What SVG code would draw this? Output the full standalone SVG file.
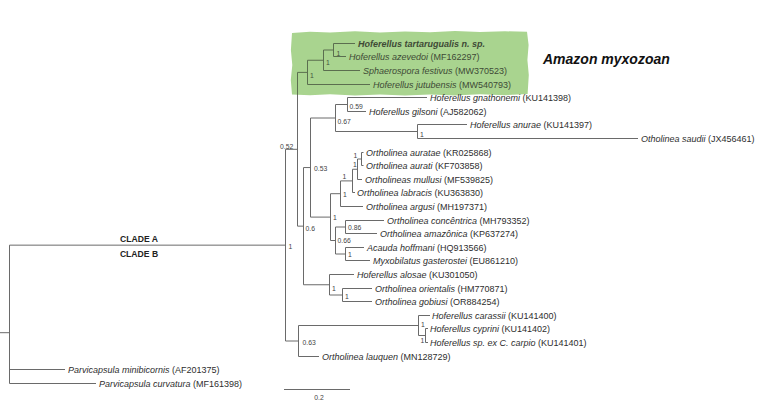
<svg xmlns="http://www.w3.org/2000/svg" width="784" height="403" viewBox="0 0 784 403">
<style>
  .br{fill:none;stroke:#6a6a6a;stroke-width:1}
  .brg{fill:none;stroke:#5b6e4f;stroke-width:1}
  .tx{font-family:"Liberation Sans",Arial,sans-serif;font-size:9px;fill:#2e2e2e}
  .txg{font-family:"Liberation Sans",Arial,sans-serif;font-size:9px;fill:#3e4a36}
  .it{font-style:italic}
  .sp{font-family:"Liberation Sans",Arial,sans-serif;font-size:6.8px;fill:#444}
  .spg{font-family:"Liberation Sans",Arial,sans-serif;font-size:6.8px;fill:#45553c}
  .cl{font-family:"Liberation Sans",Arial,sans-serif;font-size:8.6px;font-weight:bold;fill:#222;text-anchor:middle}
</style>
<rect width="784" height="403" fill="#fff"/>
<g id="highlight">
  <path d="M292,33 L310,31.8 L330,32.6 L355,31.2 L380,32.5 L405,31.4 L430,32.2 L455,31 L480,32 L505,31.3 L527,31.8 L528.6,45 L527.4,60 L528.8,75 L527.6,94 L505,95.2 L480,94.3 L455,95.6 L430,94.6 L405,95.4 L380,94.4 L355,95.6 L330,94.2 L310,95.3 L292,94.6 L290.8,80 L292.3,65 L290.9,50 Z" fill="#a9d48f"/>
</g>
<g id="connectors">
  <path class="brg" d="M333.5,43.5V56.5 M333.5,43.5H355 M333.5,56.5H346"/>
  <path class="brg" d="M323.5,50V70.5 M323.5,50H333.5 M323.5,70.5H360"/>
  <path class="brg" d="M307.5,60.25V84.5 M307.5,60.25H323.5 M307.5,84.5H370"/>
  <path class="brg" d="M297.5,72.4H307.5"/>
  <path class="br" d="M297.5,95V226.15"/>
  <path class="brg" d="M297.5,72.4V95"/>
  <path class="br" d="M347.5,97.5V111.5 M347.5,97.5H427 M347.5,111.5H366"/>
  <path class="br" d="M417.5,124.5V138.5 M417.5,124.5H467 M417.5,138.5H638"/>
  <path class="br" d="M335.5,104.5V131.5 M335.5,104.5H347.5 M335.5,131.5H417.5"/>
  <path class="br" d="M361.5,152.5V165.5 M361.5,152.5H363.5 M361.5,165.5H363.5"/>
  <path class="br" d="M357.5,159V179.5 M357.5,159H361.5 M357.5,179.5H362"/>
  <path class="br" d="M352.5,169.25V192.5 M352.5,169.25H357.5 M352.5,192.5H355"/>
  <path class="br" d="M340.5,180.9V206.5 M340.5,180.9H352.5 M340.5,206.5H363"/>
  <path class="br" d="M345.5,220.5V233.5 M345.5,220.5H384 M345.5,233.5H377"/>
  <path class="br" d="M345.5,247.5V260.5 M345.5,247.5H364 M345.5,260.5H370"/>
  <path class="br" d="M335.5,227V254 M335.5,227H345.5 M335.5,254H345.5"/>
  <path class="br" d="M330.5,193.7V240.5 M330.5,193.7H340.5 M330.5,240.5H335.5"/>
  <path class="br" d="M310.5,118V217.1 M310.5,118H335.5 M310.5,217.1H330.5"/>
  <path class="br" d="M342.5,288.5V301.5 M342.5,288.5H372 M342.5,301.5H372"/>
  <path class="br" d="M329.5,274.5V295 M329.5,274.5H354 M329.5,295H342.5"/>
  <path class="br" d="M303.5,167.55V284.75 M303.5,167.55H310.5 M303.5,284.75H329.5"/>
  <path class="br" d="M297.5,226.15H303.5"/>
  <path class="br" d="M425.5,328.5V342.5 M425.5,328.5H428 M425.5,342.5H428"/>
  <path class="br" d="M418.5,315.5V335.5 M418.5,315.5H430 M418.5,335.5H425.5"/>
  <path class="br" d="M298.5,325.5V356.5 M298.5,325.5H418.5 M298.5,356.5H319"/>
  <path class="br" d="M285.5,149.3V341 M285.5,149.3H297.5 M285.5,341H298.5"/>
  <path class="br" d="M9.5,245.15V383.5 M9.5,245.15H285.5 M9.5,369.5H65 M9.5,383.5H96 M0,332.7H9.5"/>
  <path class="br" d="M284,389.5H350"/>
</g>
<g id="amazon-clade">
  <text class="txg" x="358" y="46.5" font-weight="bold" font-style="italic" fill="#2c3526">Hoferellus tartarugualis n. sp.</text>
  <text class="txg" x="349" y="59.5"><tspan class="it">Hoferellus azevedoi</tspan> (MF162297)</text>
  <text class="txg" x="363" y="73.5"><tspan class="it">Sphaerospora festivus</tspan> (MW370523)</text>
  <text class="txg" x="373" y="87.5"><tspan class="it">Hoferellus jutubensis</tspan> (MW540793)</text>
  <text class="spg" x="336.5" y="55.5">1</text>
  <text class="spg" x="326" y="65">1</text>
  <text class="spg" x="310" y="78">1</text>
  <text x="543" y="64" font-family="'Liberation Sans',Arial,sans-serif" font-size="14" font-weight="bold" font-style="italic" fill="#111">Amazon myxozoan</text>
</g>
<g id="hoferellus-clade">
  <text class="tx" x="430" y="100.5"><tspan class="it">Hoferellus gnathonemi</tspan> (KU141398)</text>
  <text class="tx" x="369" y="114.5"><tspan class="it">Hoferellus gilsoni</tspan> (AJ582062)</text>
  <text class="tx" x="470" y="127.5"><tspan class="it">Hoferellus anurae</tspan> (KU141397)</text>
  <text class="tx" x="641" y="141.5"><tspan class="it">Otholinea saudii</tspan> (JX456461)</text>
  <text class="sp" x="349.5" y="109">0.59</text>
  <text class="sp" x="337.5" y="124">0.67</text>
  <text class="sp" x="420" y="137">1</text>
  <text class="sp" x="280" y="148.5">0.52</text>
</g>
<g id="ortholinea-clade">
  <text class="tx" x="366" y="155.5"><tspan class="it">Ortholinea auratae</tspan> (KR025868)</text>
  <text class="tx" x="366" y="168.5"><tspan class="it">Ortholinea aurati</tspan> (KF703858)</text>
  <text class="tx" x="365" y="182.5"><tspan class="it">Ortholineas mullusi</tspan> (MF539825)</text>
  <text class="tx" x="357" y="195.5"><tspan class="it">Ortholinea labracis</tspan> (KU363830)</text>
  <text class="tx" x="366" y="209.5"><tspan class="it">Ortholinea argusi</tspan> (MH197371)</text>
  <text class="tx" x="387" y="223.5"><tspan class="it">Ortholinea concêntrica</tspan> (MH793352)</text>
  <text class="tx" x="380" y="236.5"><tspan class="it">Ortholinea amazônica</tspan> (KP637274)</text>
  <text class="tx" x="367" y="250.5"><tspan class="it">Acauda hoffmani</tspan> (HQ913566)</text>
  <text class="tx" x="373" y="263.5"><tspan class="it">Myxobilatus gasterostei</tspan> (EU861210)</text>
  <text class="sp" x="353.5" y="157.5">1</text>
  <text class="sp" x="353" y="167">1</text>
  <text class="sp" x="342.5" y="179" font-size="8" fill="#222">1</text>
  <text class="sp" x="343" y="197">1</text>
  <text class="sp" x="333" y="220">1</text>
  <text class="sp" x="348" y="229.5">0.86</text>
  <text class="sp" x="314" y="170.5">0.53</text>
  <text class="sp" x="305.5" y="230.5">0.6</text>
  <text class="sp" x="337.5" y="243">0.66</text>
  <text class="sp" x="348" y="256.5">1</text>
</g>
<g id="alosae-clade">
  <text class="tx" x="357" y="277.5"><tspan class="it">Hoferellus alosae</tspan> (KU301050)</text>
  <text class="tx" x="375" y="291.5"><tspan class="it">Ortholinea orientalis</tspan> (HM770871)</text>
  <text class="tx" x="375" y="304.5"><tspan class="it">Ortholinea gobiusi</tspan> (OR884254)</text>
  <text class="sp" x="332" y="290.5">1</text>
  <text class="sp" x="345" y="298.5">1</text>
</g>
<g id="carassii-clade">
  <text class="tx" x="432" y="318.5"><tspan class="it">Hoferellus carassii</tspan> (KU141400)</text>
  <text class="tx" x="430" y="331.5"><tspan class="it">Hoferellus cyprini</tspan> (KU141402)</text>
  <text class="tx" x="430" y="345.5"><tspan class="it">Hoferellus sp. ex C. carpio</tspan> (KU141401)</text>
  <text class="tx" x="322" y="359.5"><tspan class="it">Ortholinea lauquen</tspan> (MN128729)</text>
  <text class="sp" x="421" y="326.5">1</text>
  <text class="sp" x="420.5" y="342.5">1</text>
  <text class="sp" x="302.5" y="344.5">0.63</text>
</g>
<g id="clade-ab">
  <text class="sp" x="288.5" y="248.5">1</text>
  <text class="cl" x="139" y="242">CLADE A</text>
  <text class="cl" x="139" y="257">CLADE B</text>
</g>
<g id="outgroup">
  <text class="tx" x="68" y="372.5"><tspan class="it">Parvicapsula minibicornis</tspan> (AF201375)</text>
  <text class="tx" x="99" y="386.5"><tspan class="it">Parvicapsula curvatura</tspan> (MF161398)</text>
</g>
<g id="scale">
  <text class="sp" x="319" y="400" font-size="6" text-anchor="middle">0.2</text>
</g>
</svg>
